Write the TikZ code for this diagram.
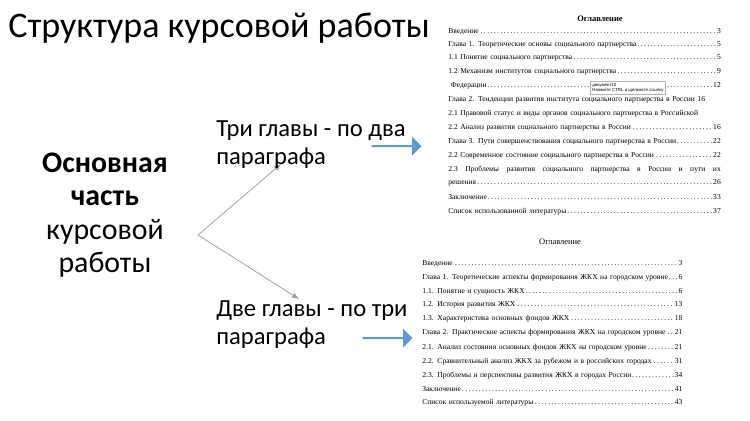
\documentclass[tikz,border=0pt]{standalone}
\usepackage{fontspec}
\setmainfont{Carlito}
\newfontfamily\tocfont{Liberation Serif}
\newfontfamily\tipfont{Liberation Sans}
\usetikzlibrary{arrows.meta,shapes.arrows}
\definecolor{slideblue}{RGB}{91,155,213}
\definecolor{forkline}{RGB}{135,155,195}
\begin{document}
\begin{tikzpicture}[x=0.02cm,y=-0.02cm,
  bigtext/.style={font=\fontsize{14}{16}\selectfont, align=left, anchor=north west, inner sep=0pt},
  tocline/.style={font=\tocfont\fontsize{4.3}{5}\selectfont, anchor=west, inner sep=0pt, align=left},
  blockarrow/.style={single arrow, fill=slideblue, draw=none, minimum height=1.0cm, minimum width=0.38cm, single arrow head extend=0.06cm, inner sep=0pt}]
\useasboundingbox (0,0) rectangle (750,420);

% Title
\node[anchor=west, inner sep=0pt, font=\fontsize{20.5}{24}\selectfont] (title) at (8,28) {Структура курсовой работы};

% Main part text
\node[align=center, inner sep=0pt, font=\fontsize{17}{19}\selectfont] (main) at (105,215)
  {\textbf{Основная}\\\textbf{часть}\\курсовой\\работы};

% Fork with two branches
\coordinate (fork) at (198,235);
\coordinate (upend) at (281,164);
\coordinate (downend) at (299,299);
\draw[forkline, -{Latex[length=4pt,width=3pt]}] (fork) -- (upend);
\draw[forkline, -{Latex[length=4pt,width=3pt]}] (fork) -- (downend);

% Branch texts
\node[bigtext] (three) at (216,120) {Три главы - по два\\параграфа};
\node[bigtext] (two) at (216,300) {Две главы - по три\\параграфа};

% Block arrows towards the contents
\node[blockarrow] (arrowup) at (396,146) {};
\node[blockarrow] (arrowdown) at (387,338) {};

% First table of contents
\node[font=\tocfont\bfseries\fontsize{4.8}{6}\selectfont, inner sep=0pt] (tocaTitle) at (600,19) {Оглавление};
\foreach \y/\t in {
  32/{Введение\dotfill 3},
  45/{Глава 1. Теоретические основы социального партнерства\dotfill 5},
  58/{1.1 Понятие социального партнерства\dotfill 5},
  72/{1.2 Механизм институтов социального партнерства\dotfill 9},
  86/{\ Федерации\dotfill 12},
  100/{Глава 2. Тенденции развития института социального партнерства в России 16},
  114/{2.1 Правовой статус и виды органов социального партнерства в Российской},
  128/{2.2 Анализ развития социального партнерства в России\dotfill 16},
  142/{Глава 3. Пути совершенствования социального партнерства в России\dotfill 22},
  156/{2.2 Современное состояние социального партнерства в России\dotfill 22},
  170/{2.3\hfill Проблемы\hfill развития\hfill социального\hfill партнерства\hfill в\hfill России\hfill и\hfill пути\hfill их},
  183/{решения\dotfill 26},
  197/{Заключение\dotfill 33},
  212/{Список использованной литературы\dotfill 37}}
  \node[tocline, text width=5.45cm] at (448,\y) {\t};
\node[draw=gray!60, fill=white, align=left, inner sep=1pt, font=\tipfont\fontsize{2.5}{3}\selectfont] (tooltip) at (628,88)
  {документ10\\Нажмите CTRL и щелкните ссылку};

% Second table of contents
\node[font=\tocfont\fontsize{4.8}{6}\selectfont, inner sep=0pt] (tocbTitle) at (560,242) {Оглавление};
\foreach \y/\t in {
  264/{Введение\dotfill 3},
  278/{Глава 1. Теоретические аспекты формирования ЖКХ на городском уровне\dotfill 6},
  292/{1.1. Понятие и сущность ЖКХ\dotfill 6},
  305/{1.2. История развития ЖКХ\dotfill 13},
  319/{1.3. Характеристика основных фондов ЖКХ\dotfill 18},
  333/{Глава 2. Практические аспекты формирования ЖКХ на городском уровне\dotfill 21},
  348/{2.1. Анализ состояния основных фондов ЖКХ на городском уровне\dotfill 21},
  362/{2.2. Сравнительный анализ ЖКХ за рубежом и в российских городах\dotfill 31},
  376/{2.3. Проблемы и перспективы развития ЖКХ в городах России\dotfill 34},
  389/{Заключение\dotfill 41},
  403/{Список используемой литературы\dotfill 43}}
  \node[tocline, text width=5.2cm] at (422,\y) {\t};
\end{tikzpicture}
\end{document}
